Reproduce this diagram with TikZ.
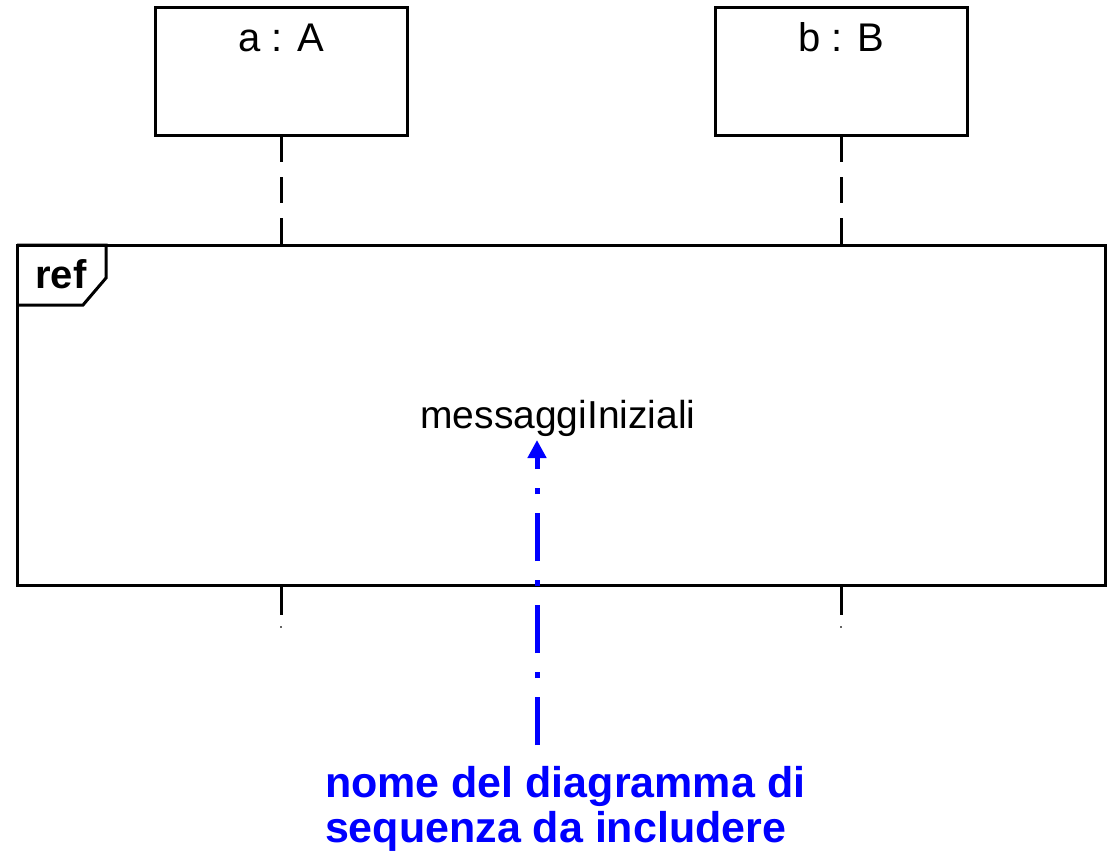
\documentclass[tikz,border=0pt]{standalone}
\usepackage{fontspec}
\setmainfont{Liberation Sans}
\usetikzlibrary{arrows.meta}
\definecolor{noteblue}{RGB}{0,0,255}
\tikzset{
  objbox/.style={draw=black, line width=3pt, minimum width=252pt, minimum height=128pt, inner sep=0pt, outer sep=0pt},
  frambox/.style={draw=black, line width=3pt, minimum width=1088pt, minimum height=340pt, inner sep=0pt, outer sep=0pt},
  lifedash/.style={draw=black, line width=3pt, dash pattern=on 26pt off 15pt},
  lifesolid/.style={draw=black, line width=3pt},
  plain/.style={inner sep=0pt, outer sep=0pt, font=\fontsize{40}{48}\selectfont},
  notetext/.style={inner sep=0pt, outer sep=0pt, text=noteblue, align=left, font=\fontsize{43}{45}\selectfont\bfseries},
  notearrow/.style={draw=noteblue, line width=5pt, dash pattern=on 48pt off 19pt on 6pt off 19pt, -{Triangle[length=18pt,width=18pt]}}
}
\begin{document}
\begin{tikzpicture}[x=1pt,y=-1pt]
\useasboundingbox (0,0) rectangle (1111,856);
% object boxes
\node[objbox] (boxa) at (281,72) {};
\node[objbox] (boxb) at (841,72) {};
\node[plain, anchor=base] (labela) at (281,52) {a : A};
\node[plain, anchor=base] (labelb) at (841,52) {b : B};
% frame
\node[frambox] (frame) at (561,415) {};
% ref tag
\draw[line width=3pt, line join=miter] (17,245) -- (106,245) -- (106,278) -- (83,305) -- (17,305);
\node[inner sep=0pt, anchor=base west, font=\fontsize{40}{48}\selectfont\bfseries] (reftag) at (35,288) {ref};
% lifelines
\draw[lifedash] (boxa.south) -- (boxa.south |- frame.north);
\draw[lifedash] (boxb.south) -- (boxb.south |- frame.north);
\draw[lifesolid] (boxa.south |- frame.south) -- ++(0,30);
\draw[lifesolid] (boxb.south |- frame.south) -- ++(0,30);
\draw[black!60, line width=2pt] (boxa.south |- 0,626) -- ++(0,2);
\draw[black!60, line width=2pt] (boxb.south |- 0,626) -- ++(0,2);
% reference name
\node[plain, anchor=base, font=\fontsize{39}{46}\selectfont] (msg) at (558,428) {messaggiIniziali};
% note and arrow
\coordinate (arrowfoot) at (537,745);
\coordinate (arrowtip) at (537,440);
\draw[notearrow] (arrowfoot) -- (arrowtip);
\node[notetext, anchor=base west] (note) at (325,842) {nome del diagramma di\\sequenza da includere};
\end{tikzpicture}
\end{document}
